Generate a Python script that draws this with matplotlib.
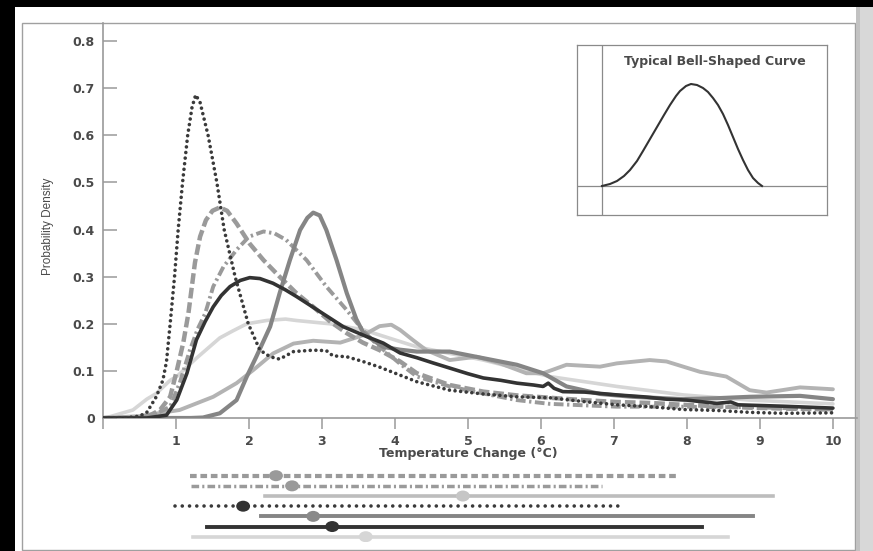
import matplotlib
matplotlib.use("Agg")
import matplotlib.pyplot as plt
from matplotlib.patches import Rectangle, Ellipse

W, H = 873, 551

# ---- curve data (temperature change, probability density) ----
dot_x = [0, 0.3, 0.5, 0.6, 0.73, 0.82, 0.87, 0.92, 0.98, 1.03, 1.09, 1.16, 1.22, 1.27, 1.33, 1.44,
         1.56, 1.66, 1.81, 1.99, 2.15, 2.29, 2.42, 2.61, 2.88, 3.06, 3.15, 3.34, 3.56, 3.79, 4.3,
         4.75, 5.21, 5.67, 6.12, 6.58, 7.04, 7.49, 7.95, 8.41, 8.86, 9.32, 10]
dot_y = [0, 0, 0.004, 0.012, 0.045, 0.08, 0.12, 0.2, 0.3, 0.4, 0.5, 0.6, 0.66, 0.686, 0.67, 0.6,
         0.5, 0.4, 0.3, 0.2, 0.144, 0.130, 0.125, 0.141, 0.144, 0.143, 0.132, 0.130, 0.120, 0.108, 0.077,
         0.059, 0.051, 0.045, 0.043, 0.035, 0.028, 0.024, 0.018, 0.016, 0.012, 0.010, 0.011]

dash_x = [0, 0.4, 0.6, 0.78, 0.92, 1.01, 1.1, 1.17, 1.21, 1.26, 1.33, 1.41, 1.5, 1.6, 1.7, 1.83,
          2.01, 2.2, 2.42, 2.65, 2.88, 3.11, 3.34, 3.56, 3.79, 4.07, 4.3, 4.75, 5.21, 5.67, 6.12,
          6.58, 7.04, 7.49, 7.95, 8.41, 8.86, 9.32, 10]
dash_y = [0, 0, 0.002, 0.017, 0.045, 0.1, 0.16, 0.222, 0.27, 0.33, 0.385, 0.42, 0.44, 0.447, 0.44, 0.413,
          0.37, 0.335, 0.300, 0.265, 0.236, 0.205, 0.180, 0.16, 0.144, 0.12, 0.095, 0.07, 0.056, 0.048, 0.043,
          0.038, 0.034, 0.032, 0.028, 0.025, 0.022, 0.02, 0.018]

dd_x = [0, 0.4, 0.69, 0.92, 1.05, 1.19, 1.3, 1.4, 1.51, 1.65, 1.83, 2.0, 2.2, 2.35, 2.51, 2.79,
        3.06, 3.34, 3.52, 3.66, 3.84, 4.07, 4.3, 4.75, 5.21, 5.67, 6.12, 6.58, 7.04, 7.49, 7.95,
        8.41, 8.86, 9.32, 10]
dd_y = [0, 0, 0.006, 0.024, 0.074, 0.144, 0.19, 0.222, 0.279, 0.321, 0.357, 0.385, 0.396, 0.392, 0.378, 0.335,
        0.279, 0.229, 0.194, 0.17, 0.145, 0.115, 0.088, 0.067, 0.052, 0.038, 0.030, 0.027, 0.024, 0.024, 0.024,
        0.023, 0.023, 0.021, 0.018]

mid_x = [0, 0.8, 1.2, 1.37, 1.6, 1.83, 1.97, 2.1, 2.29, 2.42, 2.56, 2.7, 2.8, 2.88, 2.97, 3.06,
         3.2, 3.34, 3.47, 3.57, 3.7, 3.84, 4.07, 4.3, 4.75, 5.21, 5.67, 6.03, 6.35, 6.81, 7.26,
         7.95, 8.41, 8.86, 9.55, 10]
mid_y = [0, 0, 0, 0.001, 0.01, 0.038, 0.088, 0.13, 0.194, 0.265, 0.335, 0.399, 0.425, 0.436, 0.43, 0.399,
         0.335, 0.265, 0.21, 0.18, 0.165, 0.151, 0.145, 0.141, 0.141, 0.127, 0.113, 0.095, 0.067, 0.051, 0.045,
         0.040, 0.042, 0.045, 0.047, 0.040]

dark_x = [0, 0.6, 0.87, 1.01, 1.15, 1.28, 1.4, 1.51, 1.62, 1.74, 1.88, 2.01, 2.15, 2.33, 2.5, 2.65,
          2.97, 3.29, 3.61, 3.84, 4.07, 4.3, 4.52, 4.75, 5.0, 5.21, 5.45, 5.67, 5.9, 6.03, 6.1, 6.18,
          6.3, 6.6, 7.04, 7.4, 7.72, 8.0, 8.41, 8.6, 8.7, 8.9, 9.32, 10]
dark_y = [0, 0, 0.006, 0.038, 0.095, 0.166, 0.205, 0.236, 0.26, 0.279, 0.292, 0.298, 0.296, 0.286, 0.272, 0.258,
          0.226, 0.194, 0.173, 0.159, 0.138, 0.128, 0.117, 0.106, 0.094, 0.085, 0.080, 0.074, 0.070, 0.067, 0.074, 0.063,
          0.056, 0.055, 0.049, 0.045, 0.040, 0.038, 0.031, 0.034, 0.028, 0.027, 0.025, 0.021]

vlight_x = [0, 0.1, 0.41, 0.6, 0.73, 0.92, 1.01, 1.28, 1.6, 1.78, 1.97, 2.24, 2.5, 2.65, 3.11,
            3.57, 4.3, 5.21, 6.12, 7.04, 7.95, 8.86, 10]
vlight_y = [0, 0.003, 0.017, 0.04, 0.052, 0.08, 0.088, 0.127, 0.170, 0.185, 0.200, 0.207, 0.210, 0.207, 0.200,
            0.187, 0.151, 0.123, 0.088, 0.067, 0.049, 0.038, 0.030]

light_x = [0, 0.5, 1.05, 1.51, 1.83, 2.06, 2.33, 2.61, 2.88, 3.25, 3.57, 3.79, 3.95, 4.07, 4.25,
           4.43, 4.75, 5.12, 5.44, 5.8, 6.03, 6.35, 6.81, 7.04, 7.49, 7.72, 8.18, 8.54, 8.86, 9.09,
           9.55, 10]
light_y = [0, 0.004, 0.017, 0.045, 0.074, 0.102, 0.137, 0.158, 0.164, 0.160, 0.176, 0.195, 0.198, 0.187, 0.165,
           0.144, 0.123, 0.130, 0.116, 0.095, 0.095, 0.113, 0.109, 0.116, 0.123, 0.120, 0.098, 0.088, 0.059, 0.054,
           0.065, 0.061]

# ranges under the chart, top row first: low end, high end, marked value
range_lo = [1.19, 1.21, 2.22, 0.99, 2.16, 1.42, 1.23]
range_hi = [7.88, 6.84, 9.18, 7.10, 8.90, 8.21, 8.56]
range_mid = [2.37, 2.59, 4.93, 1.92, 2.88, 3.14, 3.60]

# inset bell curve
bell_x = [0, 8, 15, 22, 28, 35, 41, 48, 55, 62, 68, 74, 78, 84, 89, 95, 101, 106, 111, 116,
          121, 126, 131, 136, 141, 146, 151, 156, 160]
bell_y = [0, 2, 5, 10, 16, 25, 35, 47, 59, 71, 81, 90, 95, 100, 102, 101, 98, 94, 88, 81,
          72, 61, 49, 37, 26, 16, 8, 3, 0]

x_ticks = list(range(0, 11))
x_labels = [""] + [str(v) for v in range(1, 11)]
y_ticks = [0, 0.1, 0.2, 0.3, 0.4, 0.5, 0.6, 0.7, 0.8]
y_labels = ["0", "0.1", "0.2", "0.3", "0.4", "0.5", "0.6", "0.7", "0.8"]


def fx(px):
    return px / W


def fy(py):
    return 1 - py / H


fig = plt.figure(figsize=(W / 100, H / 100), dpi=100, facecolor="black")

# white page, frame and right-hand shadow, in a background axes
bg = fig.add_axes([0, 0, 1, 1], zorder=-10)
bg.set_xlim(0, W)
bg.set_ylim(H, 0)
bg.axis("off")
bg.add_patch(Rectangle((15, 7), 841, H - 7, facecolor="white", edgecolor="none"))
bg.add_patch(Rectangle((22, 23), 833, 527, facecolor="none", edgecolor="#a0a0a0", lw=1))
bg.add_patch(Rectangle((856, 7), 17, H - 7, facecolor="#d8d8d8", edgecolor="none"))
bg.add_patch(Rectangle((856, 7), 4, H - 7, facecolor="#c2c2c2", edgecolor="none"))

# ---- main chart ----
ax = fig.add_axes([fx(103), fy(418), fx(857) - fx(103), fy(23) - fy(418)])
ax.set_facecolor("none")
ax.set_xlim(0, 10.33)
ax.set_ylim(0, 0.8386)

ax.plot(vlight_x, vlight_y, color="#d6d6d6", lw=2.6, solid_capstyle="round", solid_joinstyle="round", zorder=2)
ax.plot(light_x, light_y, color="#b3b3b3", lw=2.8, solid_capstyle="round", solid_joinstyle="round", zorder=3)
ax.plot(dd_x, dd_y, color="#9a9a9a", lw=2.8, linestyle=(0, (2.5, 0.9, 0.6, 0.9)), zorder=4)
ax.plot(dash_x, dash_y, color="#9a9a9a", lw=3.2, linestyle=(0, (2.4, 0.9)), zorder=4)
ax.plot(mid_x, mid_y, color="#858585", lw=3.0, solid_capstyle="round", solid_joinstyle="round", zorder=5)
ax.plot(dark_x, dark_y, color="#333333", lw=2.6, solid_capstyle="round", solid_joinstyle="round", zorder=6)
ax.plot(dot_x, dot_y, color="#3a3a3a", lw=2.6, linestyle=(0, (0.01, 1.55)),
        dash_capstyle="round", zorder=7)

for s in ["top", "right"]:
    ax.spines[s].set_visible(False)
for s in ["left", "bottom"]:
    ax.spines[s].set_color("#9a9a9a")
    ax.spines[s].set_linewidth(1.2)

ax.set_xticks(x_ticks)
ax.set_xticklabels(x_labels)
ax.set_yticks(y_ticks)
ax.set_yticklabels(y_labels)
ax.tick_params(axis="x", direction="out", length=8, width=1.1, color="#9a9a9a", pad=4,
               labelsize=9, labelcolor="#4a4a4a")
ax.tick_params(axis="y", direction="in", length=10, width=1.1, color="#9a9a9a", pad=6,
               labelsize=9, labelcolor="#4a4a4a")
for lab in ax.get_xticklabels() + ax.get_yticklabels():
    lab.set_fontweight("bold")

ax.text(0.485, -(453 - 418) / (418 - 23), "Temperature Change (\u00b0C)", transform=ax.transAxes,
        ha="center", va="center", fontsize=9, fontweight="bold", color="#4a4a4a")
fig.text(fx(48), fy(226), "Probability Density", rotation=90, ha="center", va="center",
         fontsize=8.5, color="#4a4a4a", family="Liberation Sans", stretch="condensed")

# ---- inset: typical bell-shaped curve ----
axi = fig.add_axes([fx(577), fy(215), fx(827) - fx(577), fy(45) - fy(215)])
axi.set_facecolor("white")
axi.set_xlim(-25, 225)
axi.set_ylim(-29, 141)
axi.axhline(0, color="#8a8a8a", lw=0.9)
axi.axvline(0, color="#8a8a8a", lw=0.9)
axi.plot(bell_x, bell_y, color="#333333", lw=1.5, solid_joinstyle="round")
axi.set_xticks([])
axi.set_yticks([])
for s in axi.spines.values():
    s.set_color("#8a8a8a")
    s.set_linewidth(0.9)
axi.text(0.55, 0.9, "Typical Bell-Shaped Curve", transform=axi.transAxes, ha="center", va="center",
         fontsize=9, fontweight="bold", color="#4a4a4a")

# ---- ranges under the chart ----
ax2 = fig.add_axes([fx(103), fy(542), fx(857) - fx(103), fy(470) - fy(542)])
ax2.set_xlim(0, 10.33)
ax2.set_ylim(6.52, -0.56)
ax2.axis("off")

row_styles = [
    dict(color="#9a9a9a", lw=3.0, linestyle=(0, (1.6, 0.9))),
    dict(color="#9a9a9a", lw=2.5, linestyle=(0, (2.2, 0.9, 0.6, 0.9))),
    dict(color="#bdbdbd", lw=2.6),
    dict(color="#3a3a3a", lw=2.6, linestyle=(0, (0.01, 2.0)), dash_capstyle="round"),
    dict(color="#858585", lw=2.8),
    dict(color="#333333", lw=2.8),
    dict(color="#d6d6d6", lw=2.6),
]
marker_colors = ["#9a9a9a", "#9a9a9a", "#c6c6c6", "#333333", "#8a8a8a", "#333333", "#d6d6d6"]

for i, (lo, hi, mid) in enumerate(zip(range_lo, range_hi, range_mid)):
    ax2.plot([lo, hi], [i, i], **row_styles[i])
    ax2.add_patch(Ellipse((mid, i), 0.19, 1.08, facecolor=marker_colors[i], edgecolor="none", zorder=5))

fig.savefig("out.png", dpi=100, facecolor=fig.get_facecolor())
